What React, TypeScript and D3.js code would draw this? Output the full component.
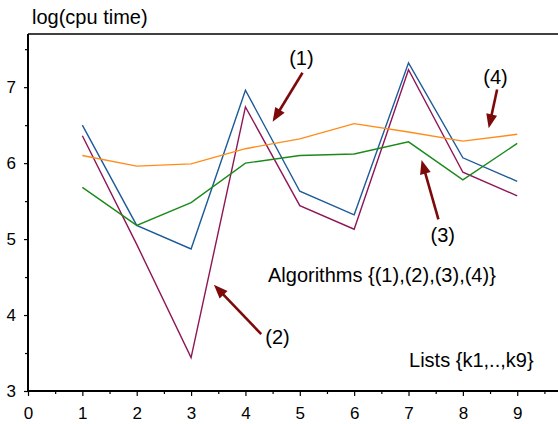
import React, { useRef, useEffect } from "react";
import { select, scaleLinear, axisBottom, axisLeft, line, range } from "d3";

// x positions: lists k1..k9
const lists = [1, 2, 3, 4, 5, 6, 7, 8, 9];

// log(cpu time) per algorithm
const algo1 = [6.5, 5.18, 4.87, 6.96, 5.63, 5.32, 7.32, 6.07, 5.76];
const algo2 = [6.36, 4.93, 3.44, 6.74, 5.44, 5.13, 7.23, 5.88, 5.57];
const algo3 = [5.68, 5.18, 5.48, 6.0, 6.1, 6.12, 6.28, 5.78, 6.26];
const algo4 = [6.1, 5.96, 5.99, 6.19, 6.32, 6.52, 6.41, 6.29, 6.38];

const seriesColors = ["#1c5a98", "#8e1656", "#1a8a1a", "#ff8c1a"];

const xTicks = [0, 1, 2, 3, 4, 5, 6, 7, 8, 9];
const yTicks = [3, 4, 5, 6, 7];

// arrow annotations, in data units: label, label pos, tail, tip
const arrowLabels = ["(1)", "(2)", "(3)", "(4)"];
const arrowLabelPos = [[5.03, 7.38], [4.59, 3.715], [7.63, 5.06], [8.6, 7.14]];
const arrowTails = [[5.05, 7.19], [4.29, 3.75], [7.55, 5.26], [8.63, 6.97]];
const arrowTips = [[4.5, 6.545], [3.42, 4.4], [7.24, 6.04], [8.475, 6.46]];

const W = 558;
const H = 424;

function App() {
  const svgRef = useRef(null);

  useEffect(() => {
    const svg = select(svgRef.current);
    svg.selectAll("*").remove();

    const x = scaleLinear().domain([0, 9.75]).range([28, 558]);
    const y = scaleLinear().domain([3, 7.7]).range([391, 34]);
    const font = "Liberation Sans, Arial, Helvetica, sans-serif";

    // frame: top line
    svg.append("line").attr("x1", 28).attr("x2", W).attr("y1", 34).attr("y2", 34)
      .attr("stroke", "#000").attr("stroke-width", 1.5);

    // minor ticks
    svg.append("g").attr("transform", "translate(0,391)")
      .call(axisBottom(x).tickValues(range(0.5, 9.75, 1)).tickSize(3).tickFormat(() => ""))
      .call(g => g.select(".domain").remove());
    svg.append("g").attr("transform", "translate(28,0)")
      .call(axisLeft(y).tickValues(range(3.5, 7.7, 1)).tickSize(3).tickFormat(() => ""))
      .call(g => g.select(".domain").remove());

    // major ticks
    const xa = svg.append("g").attr("transform", "translate(0,391)")
      .call(axisBottom(x).tickValues(xTicks).tickSize(5).tickPadding(11).tickFormat(d => String(d)));
    xa.select(".domain").remove();
    const ya = svg.append("g").attr("transform", "translate(28,0)")
      .call(axisLeft(y).tickValues(yTicks).tickSize(4).tickPadding(8).tickFormat(d => String(d)));
    ya.select(".domain").remove();
    svg.selectAll(".tick text").attr("font-size", 17).attr("font-family", font).attr("fill", "#000");
    svg.selectAll(".tick line").attr("stroke", "#000").attr("stroke-width", 1.2);

    // axis lines
    svg.append("line").attr("x1", 28).attr("x2", W).attr("y1", 391).attr("y2", 391)
      .attr("stroke", "#000").attr("stroke-width", 2);
    svg.append("line").attr("x1", 28).attr("x2", 28).attr("y1", 34).attr("y2", 392)
      .attr("stroke", "#000").attr("stroke-width", 2);

    // series lines
    const lineGen = line().x((d, i) => x(lists[i])).y(d => y(d));
    [algo1, algo2, algo3, algo4].forEach((s, k) => {
      svg.append("path").attr("d", lineGen(s)).attr("fill", "none")
        .attr("stroke", seriesColors[k]).attr("stroke-width", 1.4);
    });

    // arrows
    const arrowColor = "#7d0a0a";
    arrowTips.forEach((tip, i) => {
      const [tx, ty] = [x(tip[0]), y(tip[1])];
      const [sx, sy] = [x(arrowTails[i][0]), y(arrowTails[i][1])];
      const len = Math.hypot(tx - sx, ty - sy);
      const ux = (tx - sx) / len, uy = (ty - sy) / len;
      const hl = 14, hw = 5.5;
      const bx = tx - ux * hl, by = ty - uy * hl;
      svg.append("line").attr("x1", sx).attr("y1", sy).attr("x2", bx + ux * 2).attr("y2", by + uy * 2)
        .attr("stroke", arrowColor).attr("stroke-width", 2.6);
      svg.append("polygon")
        .attr("points", `${tx},${ty} ${bx - uy * hw},${by + ux * hw} ${bx + uy * hw},${by - ux * hw}`)
        .attr("fill", arrowColor);
      svg.append("text").attr("x", x(arrowLabelPos[i][0])).attr("y", y(arrowLabelPos[i][1]))
        .attr("text-anchor", "middle").attr("dominant-baseline", "central")
        .attr("font-size", 20).attr("font-family", font).text(arrowLabels[i]);
    });

    // captions
    svg.append("text").attr("x", 32).attr("y", 24).attr("font-size", 20).attr("font-family", font)
      .text("log(cpu time)");
    svg.append("text").attr("x", x(4.415)).attr("y", y(4.44)).attr("font-size", 20).attr("font-family", font)
      .text("Algorithms {(1),(2),(3),(4)}");
    svg.append("text").attr("x", x(7.01)).attr("y", y(3.316)).attr("font-size", 20).attr("font-family", font)
      .text("Lists {k1,..,k9}");
  }, []);

  return (
    <svg ref={svgRef} width={W} height={H}
      style={{ position: "absolute", left: 0, top: 0, background: "#fff" }} />
  );
}

export default App;
